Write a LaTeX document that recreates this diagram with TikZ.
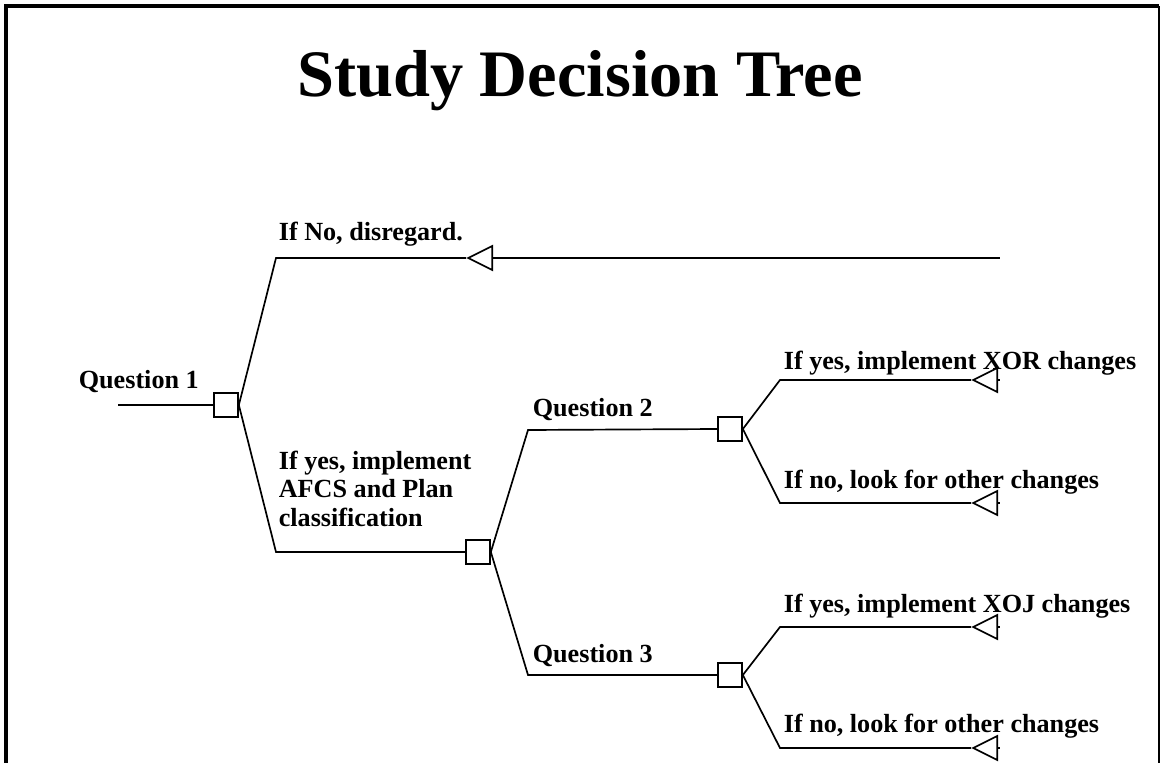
\documentclass[tikz,border=0pt]{standalone}
\usepackage{fontspec}
\setmainfont{Liberation Serif}
\usetikzlibrary{shapes.geometric}

\begin{document}
\begin{tikzpicture}[x=0.025cm, y=-0.025cm, line width=1.2pt,
        choice/.style={draw, rectangle, minimum size=0.6cm, inner sep=0pt},
        endtri/.style={draw, isosceles triangle, shape border rotate=180, isosceles triangle stretches,
            minimum width=0.6cm, minimum height=0.6cm, inner sep=0pt, anchor=apex},
        lbl/.style={anchor=base west, inner sep=0pt, font=\fontsize{18.6}{20}\selectfont\bfseries}]
        \useasboundingbox (0,0) rectangle (1160,763);
        \draw[line width=2.2pt] (6,763) -- (6,6) -- (1159,6);
        \draw[line width=1.6pt] (1159,6) -- (1159,763);
        \node[font=\fontsize{47.2}{50}\selectfont\bfseries] (title) at (580,81) {Study Decision Tree};
        % decision boxes
        \node[choice] (q1box) at (226,405) {};
        \node[choice] (yesbox) at (478,552) {};
        \node[choice] (q2box) at (730,429) {};
        \node[choice] (q3box) at (730,675) {};
        % end points
        \node[endtri] (notri) at (466,258) {};
        \node[endtri] (xortri) at (971,380) {};
        \node[endtri] (q2notri) at (971,503) {};
        \node[endtri] (xojtri) at (971,627) {};
        \node[endtri] (q3notri) at (971,748) {};
        \coordinate (q1in) at (118,405);
        \coordinate (nobend) at (276,258);
        \coordinate (noend) at (1000,258);
        \coordinate (yesbend) at (276,552);
        \coordinate (q2bend) at (528,430);
        \coordinate (q3bend) at (528,675);
        \coordinate (xorbend) at (780,380);
        \coordinate (q2nobend) at (780,503);
        \coordinate (xojbend) at (780,627);
        \coordinate (q3nobend) at (780,748);
        % branches
        \draw (q1in) -- (q1box.west);
        \draw (q1box.east) -- (nobend) -- (notri.apex);
        \draw (notri.lower side) -- (noend);
        \draw (q1box.east) -- (yesbend) -- (yesbox.west);
        \draw (yesbox.east) -- (q2bend) -- (q2box.west);
        \draw (yesbox.east) -- (q3bend) -- (q3box.west);
        \draw (q2box.east) -- (xorbend) -- (xortri.apex);
        \draw (q2box.east) -- (q2nobend) -- (q2notri.apex);
        \draw (q3box.east) -- (xojbend) -- (xojtri.apex);
        \draw (q3box.east) -- (q3nobend) -- (q3notri.apex);
        \foreach \t in {xortri, q2notri, xojtri, q3notri}
            \draw (\t.lower side) -- ++(2,0);
        % labels
        \node[lbl] (q1lbl) at (78,388) {Question 1};
        \node[lbl] (nolbl) at (278,240) {If No, disregard.};
        \node[lbl, align=left] (yeslbl) at (278,526) {If yes, implement\\ AFCS and Plan\\ classification};
        \node[lbl] (q2lbl) at (532,416) {Question 2};
        \node[lbl] (q3lbl) at (532,662) {Question 3};
        \node[lbl] (xorlbl) at (783,369) {If yes, implement XOR changes};
        \node[lbl] (q2nolbl) at (783,488) {If no, look for other changes};
        \node[lbl] (xojlbl) at (783,612) {If yes, implement XOJ changes};
        \node[lbl] (q3nolbl) at (783,732) {If no, look for other changes};
\end{tikzpicture}
\end{document}
